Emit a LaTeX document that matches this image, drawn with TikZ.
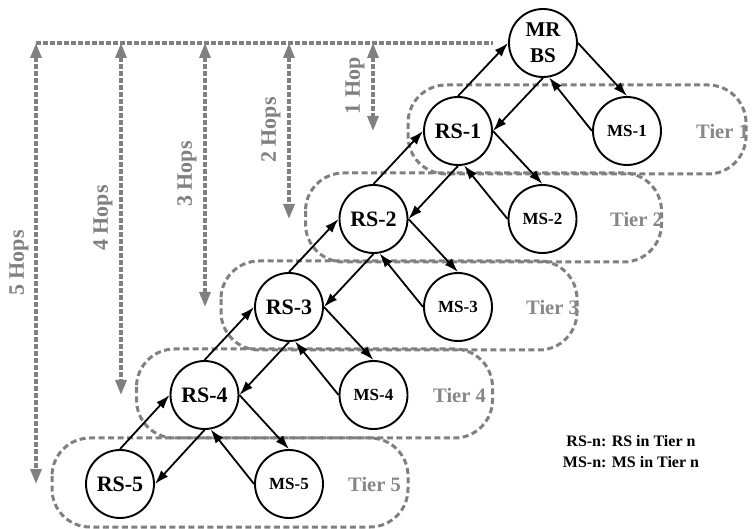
\documentclass[tikz,border=0pt]{standalone}
\usepackage{fontspec}
\setmainfont{Liberation Serif}
\usetikzlibrary{arrows.meta}
\definecolor{hopgray}{RGB}{128,128,128}
\definecolor{tiergray}{RGB}{135,135,135}
\begin{document}
\begin{tikzpicture}[x=1pt,y=-1pt,
  stn/.style={circle,draw=black,line width=1.9pt,fill=white,minimum size=68pt,inner sep=0pt,font=\bfseries\fontsize{22}{22}\selectfont},
  msn/.style={stn,font=\bfseries\fontsize{17}{18}\selectfont},
  link/.style={line width=1.8pt,-{Latex[length=14pt,width=9.5pt]}},
  tierbox/.style={draw=hopgray,line width=3pt,dash pattern=on 6pt off 3.5pt,rounded corners=38pt},
  tierlbl/.style={text=tiergray,font=\bfseries\fontsize{20.5}{21}\selectfont,anchor=west,inner sep=0pt},
  hopline/.style={draw=hopgray,line width=3.2pt,dash pattern=on 4.5pt off 2.5pt},
  hoparrow/.style={hopline,{Triangle[length=15pt,width=11pt]}-{Triangle[length=15pt,width=11pt]}},
  hoplbl/.style={text=hopgray,rotate=90,font=\bfseries\fontsize{22}{22}\selectfont,inner sep=0pt},
]
\useasboundingbox (0,0) rectangle (753,529);

% tier boxes
\draw[tierbox] (408,85) rectangle (746,174);
\draw[tierbox] (305.5,173) rectangle (661.5,262);
\draw[tierbox] (221,261) rectangle (577,350);
\draw[tierbox] (136.5,349) rectangle (492.5,438);
\draw[tierbox] (52,438) rectangle (408,527);

% tier labels
\node[tierlbl] (t1) at (696,131) {Tier 1};
\node[tierlbl] (t2) at (610,219) {Tier 2};
\node[tierlbl] (t3) at (526,307) {Tier 3};
\node[tierlbl] (t4) at (433,395) {Tier 4};
\node[tierlbl] (t5) at (348,484) {Tier 5};

% hop markers
\coordinate (hl) at (36,43);
\coordinate (hr) at (493,43);
\draw[hopline] (hl) -- (hr);
\coordinate (h1t) at (373,43); \coordinate (h1b) at (373,131);
\coordinate (h2t) at (289,43); \coordinate (h2b) at (289,219);
\coordinate (h3t) at (205,43); \coordinate (h3b) at (205,307);
\coordinate (h4t) at (121,43); \coordinate (h4b) at (121,395);
\coordinate (h5t) at (36,43);  \coordinate (h5b) at (36,484);
\draw[hoparrow] (h1t) -- (h1b);
\draw[hoparrow] (h2t) -- (h2b);
\draw[hoparrow] (h3t) -- (h3b);
\draw[hoparrow] (h4t) -- (h4b);
\draw[hoparrow] (h5t) -- (h5b);
\node[hoplbl] (l1) at (355,86) {1 Hop};
\node[hoplbl] (l2) at (271,130) {2 Hops};
\node[hoplbl] (l3) at (187,174) {3 Hops};
\node[hoplbl] (l4) at (103,218) {4 Hops};
\node[hoplbl] (l5) at (19,263) {5 Hops};

% nodes
\node[stn,align=center,font=\bfseries\fontsize{21}{26}\selectfont] (mrbs) at (543,43) {MR\\BS};
\node[stn] (rs1) at (458,131) {RS-1};
\node[msn] (ms1) at (627,131) {MS-1};
\node[stn] (rs2) at (373.5,219) {RS-2};
\node[msn] (ms2) at (542.5,219) {MS-2};
\node[stn] (rs3) at (289,307) {RS-3};
\node[msn] (ms3) at (458,307) {MS-3};
\node[stn] (rs4) at (204.5,395) {RS-4};
\node[msn] (ms4) at (373.5,395) {MS-4};
\node[stn] (rs5) at (120,484) {RS-5};
\node[msn] (ms5) at (289,484) {MS-5};

% links
\foreach \p/\r/\m in {mrbs/rs1/ms1, rs1/rs2/ms2, rs2/rs3/ms3, rs3/rs4/ms4, rs4/rs5/ms5}{
  \draw[link] (\r.north) -- (\p.west);
  \draw[link] (\p.south) -- (\r.east);
  \draw[link] (\p.east) -- (\m.north);
  \draw[link] (\m.west) -- (\p.-80);
}

% legend
\node[align=center,font=\bfseries\fontsize{16}{21}\selectfont] (legend) at (631,452) {RS-n: RS in Tier n\\MS-n: MS in Tier n};
\end{tikzpicture}
\end{document}
